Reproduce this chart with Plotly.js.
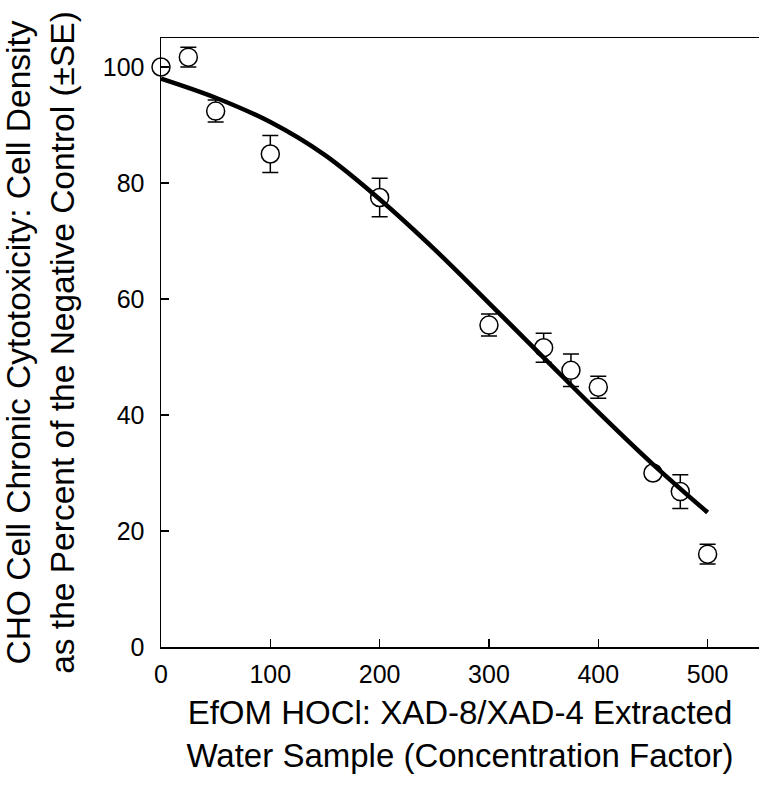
<!DOCTYPE html>
<html><head><meta charset="utf-8">
<script src="https://cdn.plot.ly/plotly-3.0.1.min.js"></script>
<style>html,body{margin:0;padding:0;background:#fff}</style>
</head><body>
<div id="chart" style="width:759px;height:788px"></div>
<script>
// Measured data points (concentration factor vs % of negative control)
const conc = [0, 25, 50, 100, 200, 300, 350, 375, 400, 450, 475, 500];
const density = [100, 101.7, 92.4, 85.0, 77.5, 55.5, 51.6, 47.7, 44.8, 30.0, 26.8, 16.0];
const se = [0, 1.7, 1.9, 3.2, 3.3, 1.9, 2.5, 2.8, 1.9, 0, 2.9, 1.7];
// Fitted curve
const fitX = [0, 50, 100, 150, 200, 250, 300, 350, 400, 450, 500];
const fitY = [98.0, 94.7, 90.5, 84.8, 77.2, 68.6, 59.3, 49.9, 40.5, 31.5, 23.2];
const xTicks = [0, 100, 200, 300, 400, 500];
const yTicks = [0, 20, 40, 60, 80, 100];
const xTitle = 'EfOM HOCl: XAD-8/XAD-4 Extracted<br>Water Sample (Concentration Factor)';
const yTitle = 'CHO Cell Chronic Cytotoxicity: Cell Density<br>as the Percent of the Negative Control (±SE)';

const points = {
  x: conc, y: density, type: 'scatter', mode: 'markers',
  marker: {symbol: 'circle', size: 18, color: 'white', line: {color: 'black', width: 1.5}},
  error_y: {type: 'data', array: se, visible: true, color: 'black', thickness: 1.5, width: 8},
  cliponaxis: false, hoverinfo: 'x+y'
};
const fit = {
  x: fitX, y: fitY, type: 'scatter', mode: 'lines',
  line: {color: 'black', width: 4.5, shape: 'spline', smoothing: 1},
  cliponaxis: false, hoverinfo: 'skip'
};
const axisCommon = {
  ticks: 'inside', ticklen: 8, tickwidth: 1.5, tickcolor: 'black',
  showline: true, linecolor: 'black', linewidth: 1.5,
  showgrid: false, zeroline: false,
  tickfont: {size: 25, color: 'black'}
};
const layout = {
  width: 759, height: 788,
  margin: {l: 161, r: 0, t: 38, b: 141},
  paper_bgcolor: 'white', plot_bgcolor: 'white',
  showlegend: false,
  font: {family: 'Liberation Sans, Arial, sans-serif', color: 'black'},
  xaxis: Object.assign({}, axisCommon, {
    range: [0, 547], tickvals: xTicks, mirror: true, ticklabelstandoff: 4,
    title: {text: xTitle, font: {size: 33}, standoff: 14}
  }),
  yaxis: Object.assign({}, axisCommon, {
    range: [0, 105], tickvals: yTicks, ticklabelstandoff: 10,
    title: {text: yTitle, font: {size: 33.5}, standoff: 20}
  })
};
Plotly.newPlot('chart', [points, fit], layout, {displayModeBar: false, staticPlot: true});
</script>
</body></html>
